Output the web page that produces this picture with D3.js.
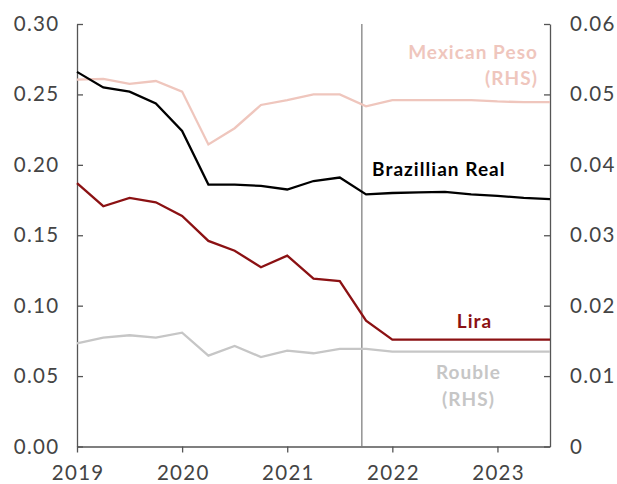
<!DOCTYPE html>
<html>
<head>
<meta charset="utf-8">
<script src="https://cdn.jsdelivr.net/npm/d3@7"></script>
<style>
  body { margin: 0; background: #fff; }
  text { font-family: Lato, "Open Sans", sans-serif; }
</style>
</head>
<body>
<div id="chart"></div>
<script>
// quarterly points, 2019 Q1 .. 2023 Q3
var quarters = [2019, 2019.25, 2019.5, 2019.75, 2020, 2020.25, 2020.5, 2020.75,
  2021, 2021.25, 2021.5, 2021.75, 2022, 2022.25, 2022.5, 2022.75, 2023, 2023.25, 2023.5];

// left axis
var brazilReal = [0.266, 0.255, 0.252, 0.2435, 0.224, 0.186, 0.186, 0.185,
  0.1825, 0.1885, 0.191, 0.179, 0.180, 0.1805, 0.1808, 0.179, 0.178, 0.1765, 0.1756];
var lira = [0.187, 0.1706, 0.1765, 0.1734, 0.1637, 0.146, 0.139, 0.1273,
  0.1355, 0.1192, 0.1175, 0.0893, 0.0759, 0.0759, 0.0759, 0.0759, 0.0759, 0.0759, 0.0759];

// right axis (RHS)
var mexicanPeso = [0.0521, 0.0522, 0.0515, 0.0519, 0.0504, 0.0429, 0.0452, 0.0485,
  0.0492, 0.0500, 0.0500, 0.0483, 0.0492, 0.0492, 0.0492, 0.0492, 0.0490, 0.0489, 0.0489];
var rouble = [0.01466, 0.01546, 0.0158, 0.01546, 0.01617, 0.0129, 0.01428, 0.01271,
  0.01361, 0.01324, 0.01385, 0.01385, 0.01347, 0.01347, 0.01347, 0.01347, 0.01347, 0.01347, 0.01347];

var leftTicks = [0, 0.05, 0.10, 0.15, 0.20, 0.25, 0.30];
var rightTicks = [0, 0.01, 0.02, 0.03, 0.04, 0.05, 0.06];
var yearTicks = [2019, 2020, 2021, 2022, 2023];
var forecastLine = 2021.71;

var width = 617, height = 484;
var margin = { top: 24, right: 67, bottom: 37.5, left: 77 };
var w = width - margin.left - margin.right;
var h = height - margin.top - margin.bottom;

var svg = d3.select("#chart").append("svg")
  .attr("width", width)
  .attr("height", height);

var g = svg.append("g")
  .attr("transform", `translate(${margin.left},${margin.top})`);

var x = d3.scaleLinear().domain([2019, 2023.5]).range([0, w]);
var yL = d3.scaleLinear().domain([0, 0.30]).range([h, 0]);
var yR = d3.scaleLinear().domain([0, 0.06]).range([h, 0]);

var axisColor = "#555";
var textColor = "#444";

// axes
var leftAxis = g.append("g")
  .call(d3.axisLeft(yL).tickValues(leftTicks).tickFormat(d3.format(".2f"))
    .tickSizeInner(-6).tickSizeOuter(0).tickPadding(17.5));
var rightAxis = g.append("g")
  .attr("transform", `translate(${w},0)`)
  .call(d3.axisRight(yR).tickValues(rightTicks)
    .tickFormat(d => d === 0 ? "0" : d3.format(".2f")(d))
    .tickSizeInner(-6).tickSizeOuter(0).tickPadding(20));
var bottomAxis = g.append("g")
  .attr("transform", `translate(0,${h})`)
  .call(d3.axisBottom(x).tickValues(yearTicks).tickFormat(d3.format("d"))
    .tickSizeInner(6).tickSizeOuter(0).tickPadding(13));

[leftAxis, rightAxis, bottomAxis].forEach(function(a) {
  a.select(".domain").attr("stroke", axisColor).attr("stroke-width", 1.3);
  a.selectAll(".tick line").attr("stroke", axisColor).attr("stroke-width", 1.3);
  a.selectAll(".tick text").attr("fill", textColor).style("font-size", "20.5px")
    .style("letter-spacing", "1.3px")
    .style("font-family", "Lato, sans-serif");
});
bottomAxis.selectAll(".tick text").attr("dx", "0.65px");

// vertical marker
g.append("line")
  .attr("x1", x(forecastLine)).attr("x2", x(forecastLine))
  .attr("y1", 0).attr("y2", h)
  .attr("stroke", "#777").attr("stroke-width", 1.2);

function drawLine(values, scale, color) {
  var line = d3.line()
    .x((d, i) => x(quarters[i]))
    .y(d => scale(d));
  g.append("path")
    .datum(values)
    .attr("fill", "none")
    .attr("stroke", color)
    .attr("stroke-width", 2.3)
    .attr("stroke-linejoin", "miter")
    .attr("d", line);
}

var cPeso = "#efc6bd", cRouble = "#c6c6c6", cReal = "#000000", cLira = "#8b1113";
drawLine(mexicanPeso, yR, cPeso);
drawLine(rouble, yR, cRouble);
drawLine(brazilReal, yL, cReal);
drawLine(lira, yL, cLira);

// labels (page coordinates)
function label(txt, px, py, color, anchor) {
  var t = svg.append("text")
    .attr("x", px).attr("y", py)
    .attr("text-anchor", anchor)
    .attr("fill", color)
    .style("font-size", "19px")
    .style("font-weight", "bold")
    .style("letter-spacing", "1.05px")
    .text(txt);
  // keep trailing letter spacing from shifting anchored text
  if (anchor === "end") t.attr("dx", "1px");
  if (anchor === "middle") t.attr("dx", "0.5px");
}
label("Mexican Peso", 537, 59, cPeso, "end");
label("(RHS)", 537, 85, cPeso, "end");
label("Brazillian Real", 372, 176, cReal, "start");
label("Lira", 474, 328, cLira, "middle");
label("Rouble", 468, 379, cRouble, "middle");
label("(RHS)", 468, 405.5, cRouble, "middle");
</script>
</body>
</html>
